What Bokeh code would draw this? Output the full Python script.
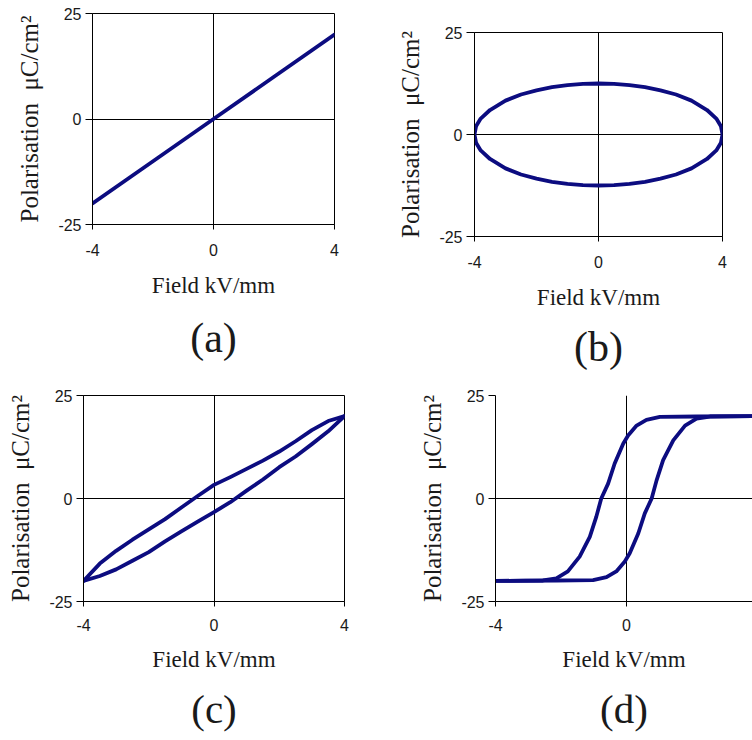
from bokeh.plotting import figure
from bokeh.layouts import column, row
from bokeh.models import FixedTicker, Range1d, Title
from bokeh.embed import file_html
from bokeh.resources import INLINE

# ---------------- data ----------------
x_ticks = [-4, 0, 4]
y_ticks = [-25, 0, 25]
x_tick_text = {-4: "-4", 0: "0", 4: "4"}
y_tick_text = {-25: "-25", 0: "0", 25: "25"}

# (a) linear dielectric
a_field = [-4, -2, 0, 2, 4]
a_pol = [-20, -10, 0, 10, 20]

# (b) ideal resistor (ellipse) - read points, upper half then lower half
b_field = [-4, -3.95, -3.8, -3.5, -3, -2.5, -2, -1.5, -1, -0.5, 0, 0.5, 1, 1.5, 2, 2.5, 3, 3.5, 3.8, 3.95, 4,
           3.95, 3.8, 3.5, 3, 2.5, 2, 1.5, 1, 0.5, 0, -0.5, -1, -1.5, -2, -2.5, -3, -3.5, -3.8, -3.95, -4]
b_pol = [0, 2.0, 3.9, 6.0, 8.3, 9.8, 10.8, 11.6, 12.1, 12.4, 12.5, 12.4, 12.1, 11.6, 10.8, 9.8, 8.3, 6.0, 3.9, 2.0, 0,
         -2.0, -3.9, -6.0, -8.3, -9.8, -10.8, -11.6, -12.1, -12.4, -12.5, -12.4, -12.1, -11.6, -10.8, -9.8, -8.3, -6.0, -3.9, -2.0, 0]

# (c) lossy capacitor loop
c_field_up = [4, 3.5, 3, 2.5, 2, 1.5, 1, 0.5, 0, -0.5, -1, -1.5, -2, -2.5, -3, -3.5, -4]
c_pol_up = [20, 18.8, 16.6, 13.9, 11.4, 9.2, 7.2, 5.2, 3.3, 0.6, -2.2, -5.0, -7.5, -10.0, -12.7, -15.8, -20]
c_field_low = [-4, -3.5, -3, -2.5, -2, -1.5, -1, -0.5, 0, 0.5, 1, 1.5, 2, 2.5, 3, 3.5, 4]
c_pol_low = [-20, -18.8, -17.2, -15.1, -13.0, -10.4, -8.0, -5.6, -3.3, -0.9, 1.9, 4.6, 7.6, 10.2, 13.2, 16.3, 20]

# (d) ferroelectric hysteresis loop
d_field_up = [4, 2.14, 1.02, 0.61, 0.31, 0.05, -0.10, -0.36, -0.56, -0.77, -0.92, -1.12, -1.43, -1.79, -2.14, -2.55, -4]
d_pol_up = [20, 19.9, 19.8, 19.1, 17.7, 15.3, 13.3, 8.5, 3.6, 0, -4.4, -9.3, -14.1, -17.7, -19.4, -19.9, -20]
d_field_low = [-4, -2.14, -1.02, -0.61, -0.31, -0.05, 0.10, 0.36, 0.56, 0.77, 0.92, 1.12, 1.43, 1.79, 2.14, 2.55, 4]
d_pol_low = [-20, -19.9, -19.8, -19.1, -17.7, -15.3, -13.3, -8.5, -3.6, 0, 4.4, 9.3, 14.1, 17.7, 19.4, 19.9, 20]

x_label = "Field kV/mm"
y_label = "Polarisation\u2002\u03bcC/cm\u00b2"
panel_names = ["(a)", "(b)", "(c)", "(d)"]

LINE = "#0c0c80"
TXT = "#1a1a1a"


def panel(width, height, bl, br, bt, bb, x_end, name, title_standoff, xtick_so=14, xlabel_so=14,
          title_size="42px", ytick_out=7, outline=True):
    p = figure(width=width, height=height, title_location=None,
               min_border_left=bl, min_border_right=br, min_border_top=bt, min_border_bottom=bb,
               x_range=Range1d(-4, x_end), y_range=Range1d(-25, 25),
               output_backend="svg", toolbar_location=None, tools="")
    p.background_fill_color = "white"
    p.border_fill_color = "white"
    p.outline_line_color = "black" if outline else None
    for ax, so, to in ((p.xaxis[0], xtick_so, 5), (p.yaxis[0], 4, ytick_out)):
        ax.axis_line_color = "black"
        ax.major_tick_line_color = "black"
        ax.major_tick_out = to
        ax.major_tick_in = 0
        ax.minor_tick_line_color = None
        ax.major_label_text_font = "Liberation Sans"
        ax.major_label_text_font_size = "16px"
        ax.major_label_text_color = TXT
        ax.major_label_standoff = so
        ax.axis_label_text_font = "Liberation Serif"
        ax.axis_label_text_font_style = "normal"
        ax.axis_label_text_color = TXT
    p.xaxis.axis_label_text_font_size = "23px"
    p.yaxis.axis_label_text_font_size = "25px"
    p.xaxis.ticker = FixedTicker(ticks=x_ticks)
    p.yaxis.ticker = FixedTicker(ticks=y_ticks)
    p.xaxis.major_label_overrides = x_tick_text
    p.yaxis.major_label_overrides = y_tick_text
    p.xaxis.axis_label = x_label
    p.yaxis.axis_label = y_label
    p.xaxis.axis_label_standoff = xlabel_so
    p.yaxis.axis_label_standoff = 12
    p.xgrid.ticker = FixedTicker(ticks=[0])
    p.ygrid.ticker = FixedTicker(ticks=[0] if outline else [0, 25])
    for g in (p.xgrid[0], p.ygrid[0]):
        g.grid_line_color = "black"
        g.grid_line_width = 1
        g.grid_line_alpha = 1
    p.add_layout(Title(text=name, align="center", text_font="Liberation Serif", text_font_size=title_size,
                       text_font_style="normal", text_color=TXT, standoff=title_standoff), "below")
    return p


pa = panel(370, 378, 92, 36, 13, 154, 4, panel_names[0], 25)
pa.line(a_field, a_pol, line_color=LINE, line_width=3.8, line_join="round", line_cap="round")

pb = panel(382, 378, 104, 30, 32, 142, 4, panel_names[1], 18, ytick_out=8)
pb.line(b_field, b_pol, line_color=LINE, line_width=3.8, line_join="round", line_cap="round")

pc = panel(376, 362, 83, 32, 17, 139, 4, panel_names[2], 18, xtick_so=12, xlabel_so=13, title_size="41px")
pc.line(c_field_up, c_pol_up, line_color=LINE, line_width=3.8, line_join="round", line_cap="round")
pc.line(c_field_low, c_pol_low, line_color=LINE, line_width=3.8, line_join="round", line_cap="round")

pd = panel(376, 362, 119, 0, 17, 139, 3.85, panel_names[3], 18, xtick_so=12, xlabel_so=13,
           title_size="41px", outline=False)
pd.line(d_field_up, d_pol_up, line_color=LINE, line_width=3.8, line_join="round", line_cap="round")
pd.line(d_field_low, d_pol_low, line_color=LINE, line_width=3.8, line_join="round", line_cap="round")

layout = column(row(column(pa), column(pb)), row(column(pc), column(pd)))
open("out.html", "w").write(file_html(layout, INLINE))
